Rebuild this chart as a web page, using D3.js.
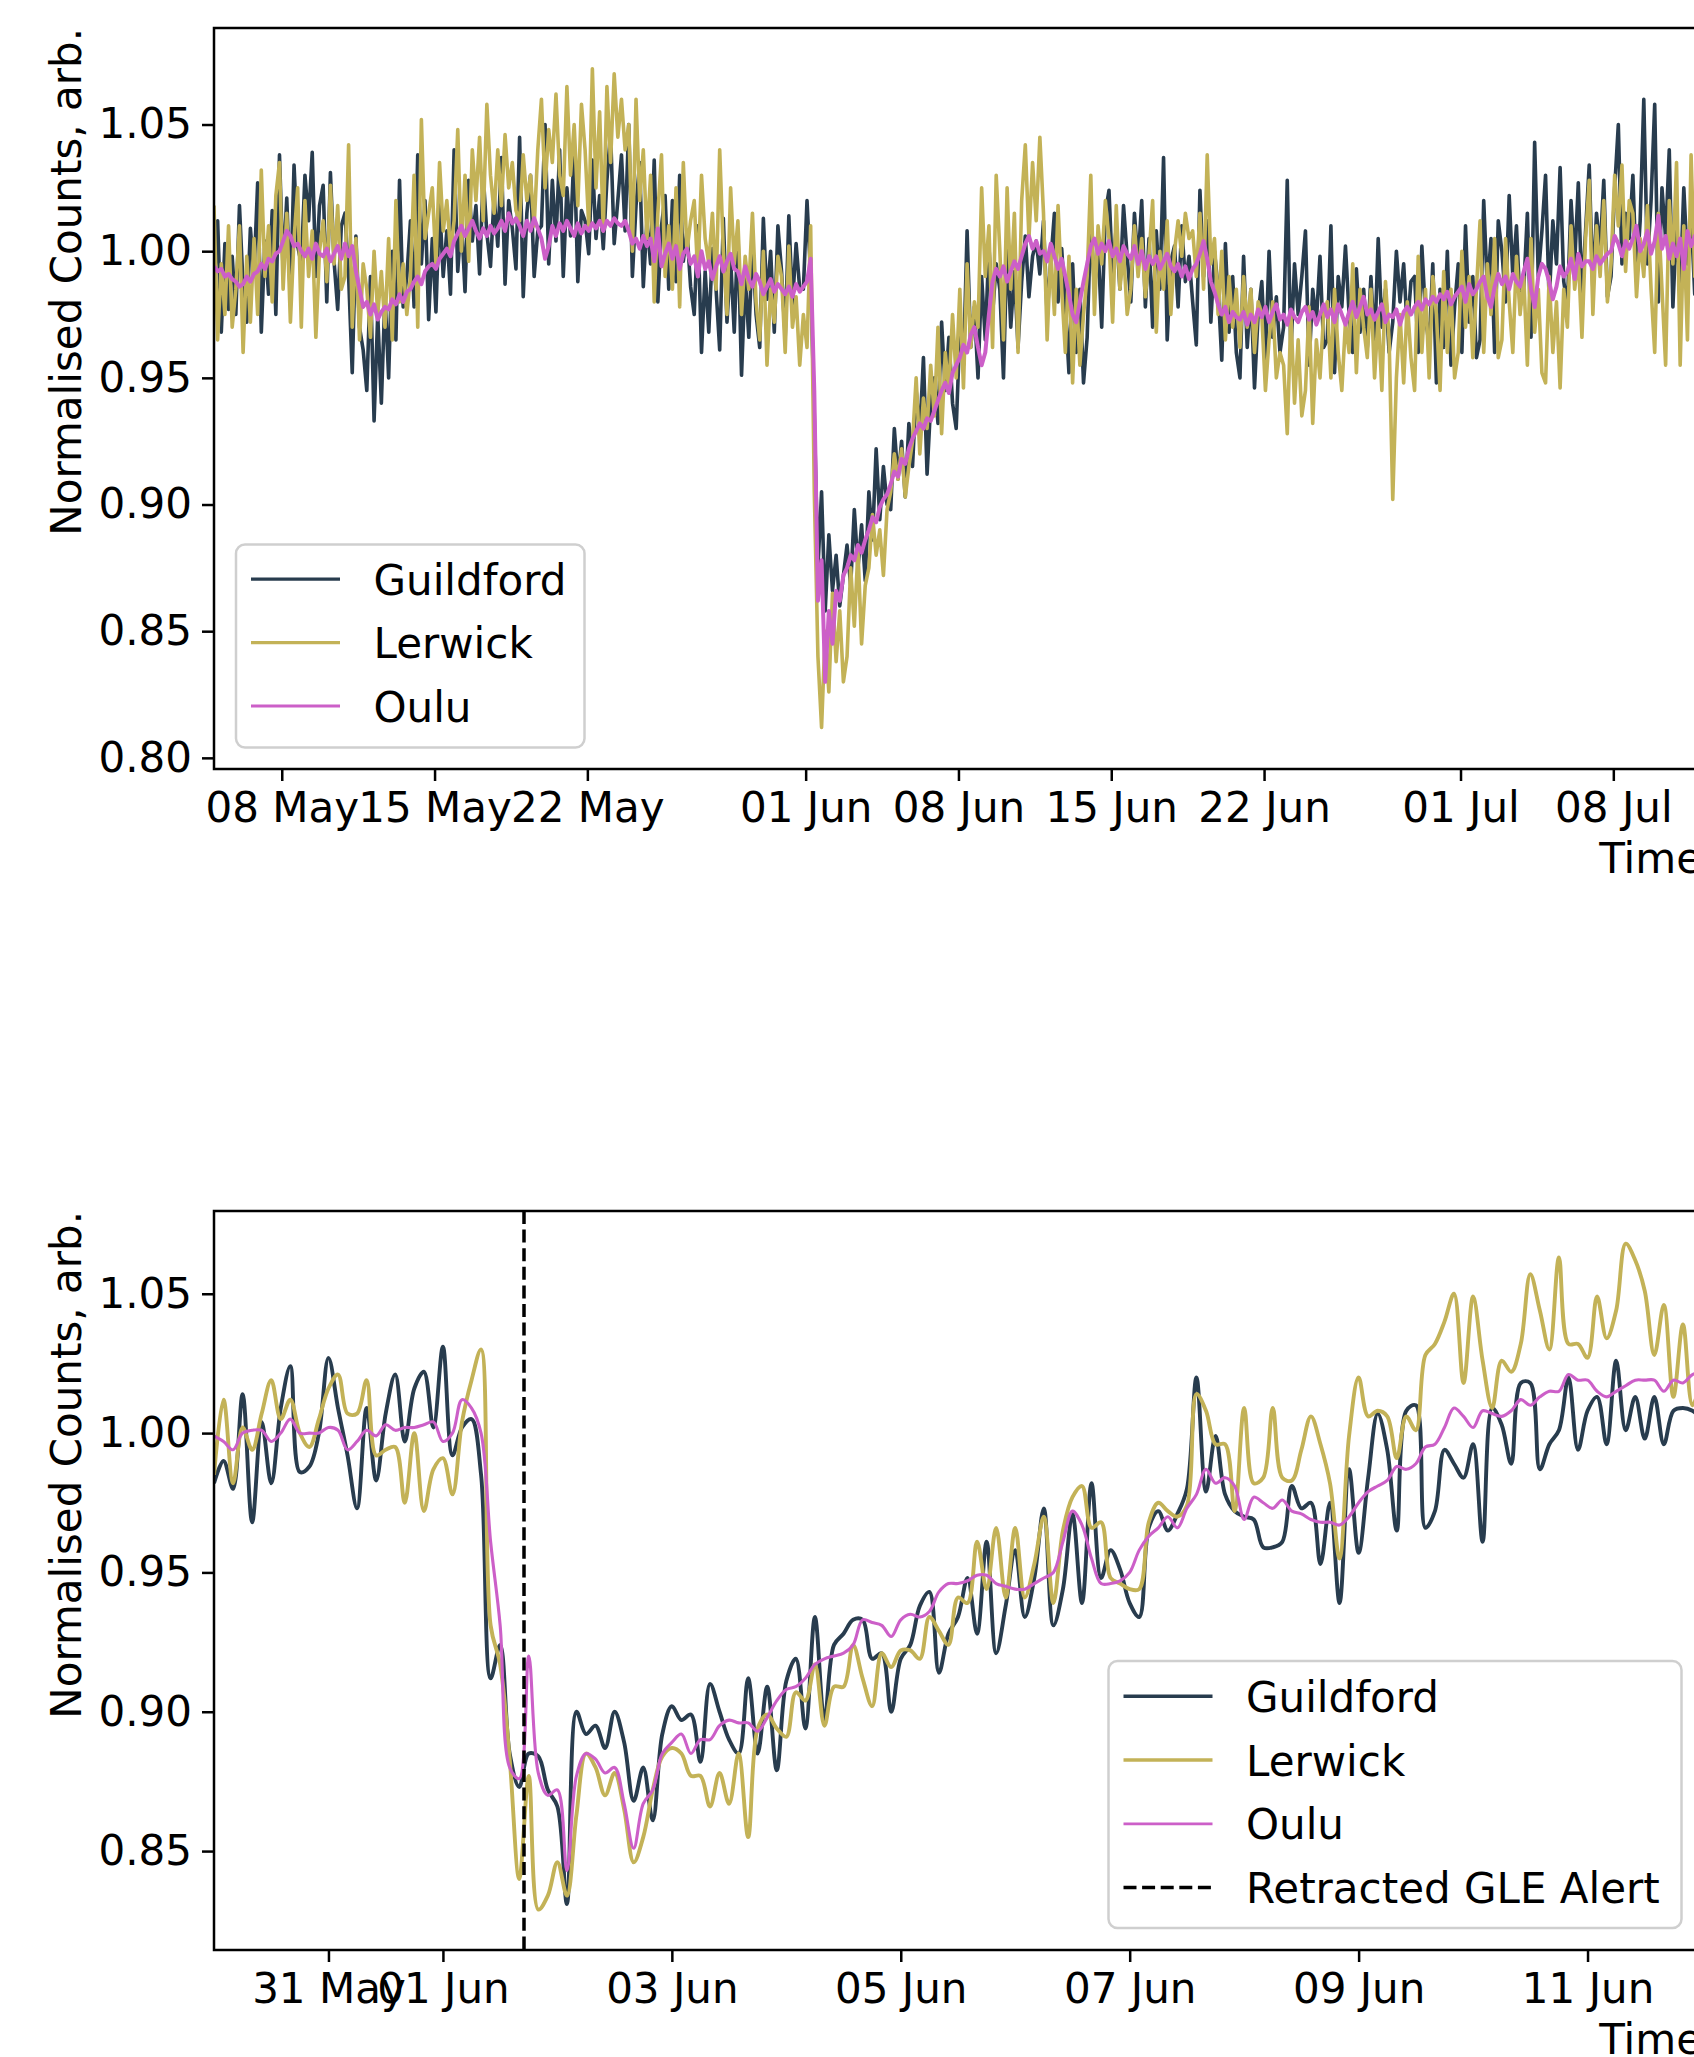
<!DOCTYPE html>
<html>
<head>
<meta charset="utf-8">
<script src="https://cdnjs.cloudflare.com/ajax/libs/d3/7.8.5/d3.min.js"></script>
<style>
  body { margin: 0; background: #fff; }
  svg { display: block; font-family: "DejaVu Sans", sans-serif; }
</style>
</head>
<body>
<div id="vis"></div>
<script>
var stations = ["Guildford", "Lerwick", "Oulu"];

// overview panel: one value every 4 hours from 04 May 21:30 UTC
var overviewStart = "2024-05-04T21:30:00Z";
var overviewStepHours = 4;

var overviewGuildford = [
  0.985, 1.012, 0.968, 1.003, 0.977, 0.998, 0.975, 1.018, 0.986, 0.972, 1.009, 0.991,
  1.027, 0.968, 1.004, 0.983, 1.016, 0.975, 1.038, 0.992, 1.021, 0.981, 1.034, 1.002,
  0.995, 1.030, 1.012, 1.039, 0.990, 1.018, 1.026, 0.980, 1.031, 0.996, 0.977, 1.010,
  1.015, 0.990, 0.952, 1.006, 0.970, 0.961, 0.945, 0.990, 0.933, 0.975, 0.940, 0.983,
  0.950, 1.000, 0.965, 1.028, 0.978, 0.990, 1.012, 0.978, 1.038, 0.995, 1.020, 0.973,
  1.005, 0.976, 1.019, 0.990, 1.008, 0.983, 1.040, 0.992, 1.013, 0.984, 1.028, 1.004,
  1.018, 0.991, 1.030, 1.007, 0.994, 1.022, 1.002, 1.037, 0.987, 1.020, 1.009, 0.993,
  1.045, 0.982, 1.015, 1.030, 0.990, 1.008, 1.010, 1.050, 0.995, 1.028, 1.004, 1.040,
  0.990, 1.025, 1.006, 1.041, 0.988, 1.016, 1.012, 0.999, 1.036, 1.005, 1.022, 1.001,
  1.028, 1.047, 1.003, 1.020, 1.038, 1.008, 1.050, 0.990, 1.018, 1.035, 0.986, 1.012,
  0.995, 1.036, 0.980, 1.010, 1.022, 0.985, 1.020, 0.988, 1.030, 0.996, 1.008, 0.986,
  0.975, 1.010, 0.960, 0.992, 0.968, 1.001, 0.985, 0.961, 1.013, 0.972, 0.997, 0.968,
  1.008, 0.951, 0.990, 0.966, 1.004, 0.975, 0.962, 1.013, 0.981, 1.000, 0.968, 1.010,
  0.992, 0.966, 1.014, 0.979, 1.003, 0.985, 0.985, 1.020, 0.990, 0.935, 0.875, 0.905,
  0.858, 0.888, 0.866, 0.880, 0.860, 0.872, 0.884, 0.868, 0.898, 0.875, 0.892, 0.870,
  0.905, 0.886, 0.922, 0.894, 0.915, 0.900, 0.898, 0.930, 0.910, 0.925, 0.903, 0.932,
  0.915, 0.945, 0.928, 0.958, 0.912, 0.940, 0.950, 0.932, 0.972, 0.945, 0.966, 0.940,
  0.930, 0.968, 0.955, 1.008, 0.962, 0.978, 0.950, 0.990, 0.965, 1.002, 0.975, 0.995,
  0.985, 0.950, 1.003, 0.970, 0.992, 0.962, 0.988, 1.006, 0.982, 0.998, 1.004, 0.991,
  1.012, 0.975, 0.996, 1.015, 0.980, 1.001, 0.978, 0.952, 0.995, 0.960, 0.985, 0.948,
  0.966, 1.012, 0.985, 1.002, 0.970, 1.015, 1.024, 0.990, 1.010, 0.985, 1.018, 0.998,
  0.980, 1.015, 0.995, 1.020, 0.978, 1.005, 0.970, 1.008, 0.985, 1.037, 0.965, 0.996,
  1.002, 0.978, 1.010, 0.988, 0.998, 0.980, 0.963, 1.024, 0.990, 1.012, 0.972, 1.000,
  0.985, 0.957, 1.003, 0.968, 0.990, 0.960, 0.950, 0.998, 0.962, 0.985, 0.946, 0.975,
  0.988, 0.957, 1.000, 0.966, 0.982, 0.960, 0.970, 1.028, 0.960, 0.995, 0.975, 0.990,
  1.008, 0.955, 0.985, 0.972, 0.998, 0.962, 0.965, 1.010, 0.952, 0.990, 0.978, 1.002,
  0.975, 0.960, 0.993, 0.968, 0.985, 0.962, 0.990, 0.962, 1.005, 0.970, 0.985, 0.960,
  0.972, 1.000, 0.980, 0.995, 0.969, 0.988, 0.990, 0.960, 1.002, 0.975, 0.962, 0.995,
  0.948, 0.985, 0.962, 1.000, 0.955, 0.978, 0.995, 0.960, 1.010, 0.972, 0.990, 0.958,
  0.965, 1.020, 0.985, 1.005, 0.960, 1.012, 1.000, 0.980, 1.022, 0.990, 1.010, 0.978,
  0.985, 1.015, 0.966, 1.043, 0.990, 1.008, 1.030, 0.980, 1.012, 0.995, 1.033, 0.988,
  0.978, 1.020, 0.995, 1.027, 0.982, 1.008, 1.034, 0.985, 1.015, 1.000, 1.028, 0.982,
  0.990, 1.025, 1.050, 0.995, 1.015, 1.005, 1.030, 0.988, 1.012, 1.060, 0.995, 1.020,
  1.058, 0.980, 1.025, 1.005, 1.040, 0.978, 1.010, 0.985, 1.025, 0.995, 1.015, 0.983,
  1.005, 0.995
];

var overviewLerwick = [
  1.018, 0.965, 0.995, 0.975, 1.010, 0.970, 0.985, 1.010, 0.960, 0.998, 0.972, 1.005,
  0.975, 1.032, 0.990, 1.010, 0.980, 1.022, 1.035, 0.985, 1.015, 0.972, 1.005, 1.025,
  0.970, 1.020, 0.990, 1.008, 0.966, 1.000, 1.012, 0.988, 1.026, 0.995, 1.018, 0.985,
  0.990, 1.042, 0.970, 1.005, 0.965, 0.995, 0.985, 0.966, 1.000, 0.975, 0.992, 0.970,
  1.005, 0.965, 1.020, 0.980, 0.995, 0.975, 0.990, 1.030, 0.970, 1.052, 1.005, 1.015,
  1.025, 0.995, 1.035, 1.008, 1.020, 1.000, 1.012, 1.048, 1.000, 1.030, 0.996, 1.040,
  1.020, 1.045, 1.012, 1.058, 1.030, 1.015, 1.040, 1.018, 1.046, 1.025, 1.035, 1.016,
  1.012, 1.038, 1.020, 1.030, 1.010, 1.040, 1.060, 1.025, 1.048, 1.035, 1.062, 1.030,
  1.022, 1.065, 1.030, 1.050, 1.018, 1.058, 1.040, 1.010, 1.072, 1.025, 1.055, 1.008,
  1.065, 1.035, 1.070, 1.045, 1.060, 1.040, 1.050, 1.000, 1.060, 1.020, 1.040, 1.005,
  1.030, 0.980, 1.015, 1.038, 0.990, 1.010, 0.985, 1.025, 0.978, 1.035, 1.000, 1.012,
  1.020, 0.990, 1.030, 1.005, 0.995, 1.015, 0.985, 1.040, 1.000, 0.975, 1.025, 0.995,
  1.012, 0.975, 0.998, 0.985, 1.015, 0.980, 0.965, 1.000, 0.955, 0.985, 0.972, 0.998,
  0.990, 0.960, 1.002, 0.970, 0.982, 0.955, 0.975, 0.962, 1.010, 0.905, 0.840, 0.812,
  0.850, 0.826, 0.865, 0.838, 0.858, 0.830, 0.840, 0.875, 0.852, 0.882, 0.845, 0.868,
  0.875, 0.896, 0.880, 0.890, 0.872, 0.898, 0.905, 0.920, 0.910, 0.922, 0.903, 0.915,
  0.925, 0.950, 0.920, 0.942, 0.930, 0.955, 0.935, 0.970, 0.928, 0.960, 0.945, 0.975,
  0.950, 0.985, 0.946, 0.995, 0.962, 0.980, 0.970, 1.025, 0.990, 1.010, 0.962, 1.030,
  1.000, 0.965, 1.025, 0.985, 1.015, 0.960, 1.020, 1.042, 1.005, 1.035, 1.012, 1.045,
  1.015, 0.965, 1.000, 0.975, 1.018, 0.985, 0.960, 0.998, 0.948, 0.985, 0.955, 0.975,
  0.990, 1.030, 0.975, 1.010, 0.995, 1.020, 1.005, 0.972, 1.018, 0.985, 1.000, 0.975,
  0.985, 1.010, 0.990, 1.005, 0.982, 0.998, 1.020, 0.968, 1.000, 0.985, 1.012, 0.975,
  1.000, 1.012, 0.998, 1.015, 1.005, 1.008, 0.990, 1.015, 0.985, 1.038, 0.995, 1.005,
  0.975, 1.000, 0.965, 0.990, 0.970, 0.985, 0.962, 0.990, 0.970, 0.985, 0.960, 0.980,
  0.975, 0.945, 0.965, 0.980, 0.950, 0.960, 0.955, 0.928, 0.975, 0.940, 0.965, 0.935,
  0.945, 0.978, 0.932, 0.965, 0.950, 0.975, 0.980, 0.950, 0.985, 0.960, 0.945, 0.972,
  0.960, 0.995, 0.952, 0.985, 0.970, 0.958, 0.985, 0.950, 0.975, 0.945, 0.988, 0.965,
  0.902, 0.950, 0.975, 0.948, 0.980, 0.958, 0.945, 0.998, 0.960, 0.985, 0.950, 0.990,
  0.975, 0.945, 0.992, 0.960, 0.985, 0.950, 0.960, 1.000, 0.970, 0.990, 0.958, 0.985,
  1.012, 0.960, 0.995, 0.975, 1.005, 0.958, 0.965, 1.005, 0.980, 0.960, 0.998, 0.975,
  0.990, 0.955, 1.005, 0.968, 0.985, 0.952, 0.948, 0.990, 0.960, 0.980, 0.946, 0.985,
  0.970, 1.010, 0.985, 0.998, 0.966, 1.005, 1.028, 0.975, 1.010, 0.990, 1.020, 0.980,
  0.995, 1.030, 1.010, 1.034, 0.992, 1.020, 1.015, 0.982, 1.005, 0.990, 1.018, 0.985,
  0.960, 1.015, 0.985, 0.955, 1.020, 0.995, 1.035, 0.955, 1.010, 0.965, 1.038, 0.990,
  1.010, 0.985
];

var overviewOulu = [
  0.994, 0.992, 0.993, 0.990, 0.991, 0.989, 0.988, 0.986, 0.987, 0.990, 0.988, 0.991,
  0.992, 0.995, 0.993, 0.997, 0.996, 0.999, 1.000, 1.004, 1.008, 1.006, 1.002, 1.003,
  1.000, 0.998, 1.001, 0.997, 1.003, 0.999, 0.998, 1.001, 0.996, 0.999, 1.002, 0.997,
  1.003, 0.998, 1.002, 0.992, 0.985, 0.978, 0.980, 0.975, 0.979, 0.973, 0.976, 0.978,
  0.977, 0.981, 0.979, 0.983, 0.980, 0.984, 0.985, 0.988, 0.990, 0.987, 0.992, 0.994,
  0.995, 0.993, 0.997, 0.999, 1.001, 0.998, 1.004, 1.007, 1.010, 1.006, 1.009, 1.012,
  1.008, 1.005, 1.009, 1.006, 1.010, 1.007, 1.009, 1.012, 1.008, 1.015, 1.011, 1.013,
  1.010, 1.006, 1.012, 1.008, 1.013, 1.009, 1.005, 0.997, 1.002, 1.010, 1.006, 1.011,
  1.008, 1.012, 1.009, 1.006, 1.011, 1.007, 1.010, 1.008, 1.011, 1.009, 1.012, 1.008,
  1.012, 1.010, 1.013, 1.011, 1.010, 1.012, 1.008, 1.003, 1.005, 1.001, 1.006, 1.002,
  1.005, 0.996, 1.009, 0.994, 0.999, 1.003, 0.997, 1.002, 0.993, 0.999, 1.001, 0.995,
  0.998, 0.990, 1.000, 0.993, 0.996, 0.989, 0.994, 0.998, 0.992, 0.996, 0.999, 0.993,
  0.992, 0.987, 0.994, 0.989, 0.986, 0.991, 0.988, 0.983, 0.986, 0.989, 0.984, 0.987,
  0.985, 0.983, 0.986, 0.982, 0.987, 0.984, 0.986, 0.988, 0.997, 0.945, 0.862, 0.878,
  0.830, 0.858, 0.845, 0.866, 0.862, 0.872, 0.875, 0.880, 0.878, 0.884, 0.881, 0.886,
  0.890, 0.895, 0.893, 0.899, 0.902, 0.904, 0.908, 0.913, 0.911, 0.918, 0.916, 0.922,
  0.926, 0.929, 0.932, 0.930, 0.934, 0.933, 0.937, 0.941, 0.945, 0.948, 0.944, 0.952,
  0.955, 0.958, 0.963, 0.960, 0.967, 0.970, 0.962, 0.955, 0.960, 0.975, 0.988, 0.993,
  0.990, 0.994, 0.988, 0.992, 0.996, 0.993, 0.998, 1.003, 1.006, 1.001, 1.004, 0.999,
  1.000, 0.996, 1.003, 0.998, 0.993, 0.997, 0.990, 0.983, 0.975, 0.972, 0.980, 0.988,
  0.995, 1.002, 1.005, 0.999, 1.003, 1.000, 1.004, 0.998, 1.001, 0.996, 1.002, 0.999,
  0.997, 1.002, 0.995, 1.000, 0.993, 0.998, 0.995, 0.998, 0.993, 0.996, 0.999, 0.994,
  0.992, 0.995, 0.990, 0.994, 0.989, 0.993, 0.995, 0.999, 1.004, 0.997, 0.988, 0.984,
  0.979, 0.975, 0.978, 0.972, 0.976, 0.974, 0.973, 0.976, 0.971, 0.975, 0.972, 0.977,
  0.974, 0.978, 0.972, 0.976, 0.979, 0.973, 0.975, 0.971, 0.977, 0.974, 0.972, 0.976,
  0.978, 0.973, 0.976, 0.971, 0.975, 0.979, 0.974, 0.977, 0.972, 0.979, 0.975, 0.971,
  0.976, 0.980, 0.974, 0.978, 0.982, 0.975, 0.977, 0.973, 0.976, 0.979, 0.972, 0.975,
  0.974, 0.977, 0.971, 0.976, 0.978, 0.975, 0.978, 0.980, 0.977, 0.981, 0.979, 0.982,
  0.980, 0.983, 0.981, 0.984, 0.979, 0.982, 0.984, 0.986, 0.980, 0.987, 0.983, 0.985,
  0.988, 0.990, 0.982, 0.978, 0.986, 0.991, 0.987, 0.990, 0.985, 0.991, 0.988, 0.986,
  0.992, 0.997, 0.985, 0.978, 0.990, 0.995, 0.993, 0.988, 0.981, 0.986, 0.994, 0.990,
  0.992, 0.997, 0.989, 0.999, 0.994, 0.996, 0.996, 0.993, 0.998, 0.995, 0.997, 0.999,
  1.000, 1.006, 1.003, 0.998, 1.004, 1.001, 1.005, 1.010, 1.000, 1.003, 1.008, 0.999,
  1.004, 1.014, 1.001, 1.006, 0.997, 1.003, 0.998, 1.005, 0.993, 1.008, 1.002, 1.006,
  1.005, 1.007
];

// zoomed panel: one value every 2 hours from 30 May 00:00 UTC
var zoomStart = "2024-05-30T00:00:00Z";
var zoomEnd = "2024-06-12T00:00:00Z";
var zoomStepHours = 2;

var zoomGuildford = [
  0.982, 0.990, 0.980, 1.014, 0.968, 1.004, 0.982, 1.009, 1.024, 0.986,
  0.988, 1.000, 1.027, 1.009, 0.992, 0.973, 1.009, 0.983, 1.007, 1.021,
  0.997, 1.016, 1.022, 1.002, 1.031, 0.992, 1.002, 1.005, 0.985, 0.912,
  0.924, 0.885, 0.873, 0.885, 0.884, 0.872, 0.866, 0.831, 0.900, 0.892,
  0.895, 0.887, 0.900, 0.889, 0.868, 0.880, 0.861, 0.892, 0.902, 0.897,
  0.899, 0.882, 0.910,
  0.900, 0.890, 0.885, 0.912, 0.885, 0.909, 0.879, 0.911, 0.919, 0.894,
  0.934, 0.897, 0.924, 0.928, 0.933, 0.933, 0.919, 0.921, 0.900, 0.919,
  0.924, 0.938, 0.943, 0.914, 0.928, 0.934, 0.948, 0.928, 0.961, 0.921,
  0.938, 0.958, 0.934, 0.948, 0.973, 0.931, 0.944, 0.971, 0.939, 0.982,
  0.948, 0.958, 0.951, 0.939, 0.934, 0.966, 0.972, 0.965, 0.971, 0.980,
  1.020,
  0.979, 0.999, 0.978, 0.972, 0.970, 0.969, 0.959, 0.959, 0.961, 0.981,
  0.973, 0.975, 0.953, 0.975, 0.939, 0.987, 0.957, 0.984, 1.007, 0.994,
  0.965, 1.008, 1.010, 0.966, 0.972, 0.994, 0.989, 0.984, 0.996, 0.961,
  1.009, 1.003, 0.989, 1.018, 1.018, 0.987, 0.996, 1.001, 1.020, 0.994,
  1.008, 1.013, 0.996, 1.026, 1.001, 1.013, 0.998, 1.013, 0.996, 1.008,
  1.009, 1.008, 1.005
];

var zoomLerwick = [
  0.985, 1.012, 0.982, 1.002, 0.994, 1.007, 1.019, 1.005, 1.012, 1.000,
  0.995, 1.005, 1.016, 1.021, 1.007, 1.007, 1.019, 0.992, 0.994, 0.995,
  0.975, 1.000, 0.972, 0.987, 0.991, 0.978, 1.004, 1.019, 1.030, 0.931,
  0.917, 0.883, 0.840, 0.877, 0.829, 0.834, 0.846, 0.834, 0.863, 0.885,
  0.880, 0.870, 0.878, 0.865, 0.846, 0.855, 0.872, 0.884, 0.887, 0.885,
  0.877, 0.877, 0.866,
  0.878, 0.867, 0.885, 0.855, 0.894, 0.899, 0.894, 0.891, 0.907, 0.904,
  0.917, 0.895, 0.909, 0.909, 0.924, 0.912, 0.902, 0.921, 0.916, 0.922,
  0.922, 0.919, 0.934, 0.929, 0.924, 0.941, 0.939, 0.961, 0.944, 0.966,
  0.941, 0.966, 0.941, 0.953, 0.970, 0.939, 0.965, 0.977, 0.981, 0.966,
  0.968, 0.948, 0.946, 0.944, 0.944, 0.968, 0.975, 0.972, 0.970, 0.974,
  1.014,
  1.008, 0.996, 0.996, 0.972, 1.009, 0.982, 0.984, 1.009, 0.984, 0.983,
  0.994, 1.006, 0.996, 0.982, 0.955, 0.999, 1.020, 1.006, 1.008, 1.006,
  0.991, 1.006, 1.001, 1.028, 1.032, 1.040, 1.050, 1.018, 1.049, 1.026,
  1.009, 1.026, 1.022, 1.032, 1.057, 1.044, 1.030, 1.063, 1.032, 1.032,
  1.027, 1.049, 1.034, 1.044, 1.068, 1.062, 1.051, 1.028, 1.046, 1.013,
  1.039, 1.010, 1.020
];

var zoomOulu = [
  0.999, 0.997, 0.994, 1.000, 1.001, 1.001, 0.997, 1.000, 1.005, 1.000,
  1.000, 1.000, 1.002, 1.001, 0.994, 0.997, 1.001, 0.999, 1.003, 1.001,
  1.002, 1.002, 1.003, 1.004, 0.997, 1.000, 1.012, 1.009, 1.000, 0.961,
  0.931, 0.880, 0.876, 0.920, 0.878, 0.870, 0.872, 0.843, 0.877, 0.885,
  0.883, 0.878, 0.880, 0.867, 0.851, 0.867, 0.872, 0.885, 0.889, 0.892,
  0.885, 0.890, 0.890,
  0.895, 0.897, 0.896, 0.896, 0.893, 0.898, 0.904, 0.908, 0.909, 0.912,
  0.917, 0.919, 0.920, 0.921, 0.924, 0.933, 0.932, 0.931, 0.927, 0.933,
  0.935, 0.934, 0.936, 0.943, 0.946, 0.946, 0.947, 0.949, 0.949, 0.946,
  0.945, 0.944, 0.944, 0.946, 0.948, 0.950, 0.961, 0.972, 0.967, 0.955,
  0.946, 0.946, 0.947, 0.950, 0.958, 0.963, 0.966, 0.970, 0.966, 0.973,
  0.978,
  0.987, 0.982, 0.984, 0.981, 0.969, 0.977, 0.975, 0.973, 0.976, 0.972,
  0.971, 0.969, 0.968, 0.968, 0.967, 0.970, 0.975, 0.979, 0.981, 0.983,
  0.988, 0.987, 0.989, 0.995, 0.996, 1.002, 1.009, 1.006, 1.002, 1.008,
  1.007, 1.006, 1.008, 1.012, 1.010, 1.013, 1.015, 1.015, 1.021, 1.019,
  1.019, 1.015, 1.013, 1.015, 1.017, 1.019, 1.019, 1.019, 1.015, 1.019,
  1.018, 1.021, 1.022
];

var gleAlertTime = "2024-06-01T17:00:00Z";

var overviewTicks = ["2024-05-08", "2024-05-15", "2024-05-22", "2024-06-01", "2024-06-08",
  "2024-06-15", "2024-06-22", "2024-07-01", "2024-07-08"];
var zoomTicks = ["2024-05-31", "2024-06-01", "2024-06-03", "2024-06-05", "2024-06-07",
  "2024-06-09", "2024-06-11"];
var overviewYTicks = [0.80, 0.85, 0.90, 0.95, 1.00, 1.05];
var zoomYTicks = [0.85, 0.90, 0.95, 1.00, 1.05];

var colours = { Guildford: "#283c4e", Lerwick: "#c3b257", Oulu: "#cc5fc8" };
var fontSize = 42;

var width = 1694;
var height = 2057;

var svg = d3.select('#vis')
  .append('svg')
  .attr('width', width)
  .attr('height', height);

svg.append('rect')
  .attr('width', width)
  .attr('height', height)
  .attr('fill', '#fff');

function timeline(start, stepHours, count) {
  var t0 = new Date(start).getTime();
  return d3.range(count).map(function(i) {
    return new Date(t0 + i * stepHours * 3600000);
  });
}

function drawPanel(p, id) {
  var g = svg.append('g');

  var times = timeline(p.start, p.step, p.series.Guildford.length);
  var x = d3.scaleUtc()
    .domain([times[0], p.end ? new Date(p.end) : times[times.length - 1]])
    .range([p.left, p.right]);
  var y = d3.scaleLinear()
    .domain(p.yDomain)
    .range([p.bottom, p.top]);

  g.append('clipPath')
    .attr('id', 'clip' + id)
    .append('rect')
    .attr('x', p.left)
    .attr('y', p.top)
    .attr('width', p.right - p.left)
    .attr('height', p.bottom - p.top);

  var plot = g.append('g').attr('clip-path', 'url(#clip' + id + ')');

  stations.forEach(function(name) {
    var line = d3.line()
      .x(function(d, i) { return x(times[i]); })
      .y(function(d) { return y(d); })
      .curve(p.curve);
    plot.append('path')
      .datum(p.series[name])
      .attr('fill', 'none')
      .attr('stroke', colours[name])
      .attr('stroke-width', p.widths[name])
      .attr('stroke-linejoin', 'round')
      .attr('d', line);
  });

  if (p.alert) {
    plot.append('line')
      .attr('x1', x(new Date(p.alert)))
      .attr('x2', x(new Date(p.alert)))
      .attr('y1', p.top)
      .attr('y2', p.bottom)
      .attr('stroke', '#000')
      .attr('stroke-width', 3.5)
      .attr('stroke-dasharray', '13,5.6');
  }

  // axes
  var xAxis = d3.axisBottom(x)
    .tickValues(p.xTicks.map(function(d) { return new Date(d + 'T00:00:00Z'); }))
    .tickFormat(d3.utcFormat('%d %b'))
    .tickSize(12)
    .tickPadding(11);
  var yAxis = d3.axisLeft(y)
    .tickValues(p.yTicks)
    .tickFormat(d3.format('.2f'))
    .tickSize(12)
    .tickPadding(10);

  var gx = g.append('g')
    .attr('transform', 'translate(0,' + p.bottom + ')')
    .call(xAxis);
  var gy = g.append('g')
    .attr('transform', 'translate(' + p.left + ',0)')
    .call(yAxis);

  [gx, gy].forEach(function(a) {
    a.select('.domain').remove();
    a.selectAll('line').attr('stroke', '#000').attr('stroke-width', 2.5);
    a.selectAll('text')
      .attr('fill', '#000')
      .style('font-size', fontSize + 'px')
      .style('font-family', '"DejaVu Sans", sans-serif');
  });

  // spines
  g.append('rect')
    .attr('x', p.left)
    .attr('y', p.top)
    .attr('width', p.right - p.left)
    .attr('height', p.bottom - p.top)
    .attr('fill', 'none')
    .attr('stroke', '#000')
    .attr('stroke-width', 2.5);

  g.append('text')
    .attr('transform', 'translate(81,' + p.top + ')rotate(-90)')
    .attr('text-anchor', 'end')
    .style('font-size', fontSize + 'px')
    .text('Normalised Counts, arb.');

  g.append('text')
    .attr('x', p.right)
    .attr('y', p.bottom + 104)
    .attr('text-anchor', 'end')
    .style('font-size', fontSize + 'px')
    .text('Time');

  // legend
  var L = p.legend;
  var items = stations.map(function(name) {
    return { label: name, colour: colours[name], width: p.handleWidths[name], dash: null };
  });
  if (p.alert) {
    items.push({ label: 'Retracted GLE Alert', colour: '#000', width: 3.5, dash: '13,5.6' });
  }

  var lg = g.append('g');
  lg.append('rect')
    .attr('x', L.x)
    .attr('y', L.y)
    .attr('width', L.w)
    .attr('height', L.h)
    .attr('rx', 9)
    .attr('fill', '#fff')
    .attr('fill-opacity', 0.8)
    .attr('stroke', '#cfcfcf')
    .attr('stroke-width', 2.5);

  items.forEach(function(it, i) {
    var yy = L.first + i * L.gap;
    lg.append('line')
      .attr('x1', L.x + 15)
      .attr('x2', L.x + 104)
      .attr('y1', yy)
      .attr('y2', yy)
      .attr('stroke', it.colour)
      .attr('stroke-width', it.width)
      .attr('stroke-dasharray', it.dash);
    lg.append('text')
      .attr('x', L.x + 137.5)
      .attr('y', yy)
      .attr('dy', '0.37em')
      .style('font-size', fontSize + 'px')
      .text(it.label);
  });
}

drawPanel({
  left: 214, right: 1702, top: 28, bottom: 769,
  start: overviewStart, step: overviewStepHours,
  series: { Guildford: overviewGuildford, Lerwick: overviewLerwick, Oulu: overviewOulu },
  yDomain: [0.7956, 1.0881],
  yTicks: overviewYTicks,
  xTicks: overviewTicks,
  curve: d3.curveLinear,
  widths: { Guildford: 3.6, Lerwick: 3.6, Oulu: 4.0 },
  handleWidths: { Guildford: 3.2, Lerwick: 3.2, Oulu: 3.2 },
  legend: { x: 236, y: 544.5, w: 348.5, h: 203, first: 579.2, gap: 63.4 }
}, 1);

drawPanel({
  left: 214, right: 1702, top: 1211, bottom: 1950,
  start: zoomStart, end: zoomEnd, step: zoomStepHours,
  series: { Guildford: zoomGuildford, Lerwick: zoomLerwick, Oulu: zoomOulu },
  yDomain: [0.8145, 1.0797],
  yTicks: zoomYTicks,
  xTicks: zoomTicks,
  curve: d3.curveCatmullRom.alpha(0.5),
  widths: { Guildford: 3.9, Lerwick: 3.9, Oulu: 3.1 },
  handleWidths: { Guildford: 3.5, Lerwick: 3.5, Oulu: 2.8 },
  alert: gleAlertTime,
  legend: { x: 1108.5, y: 1661, w: 573, h: 267, first: 1696.2, gap: 63.8 }
}, 2);
</script>
</body>
</html>
